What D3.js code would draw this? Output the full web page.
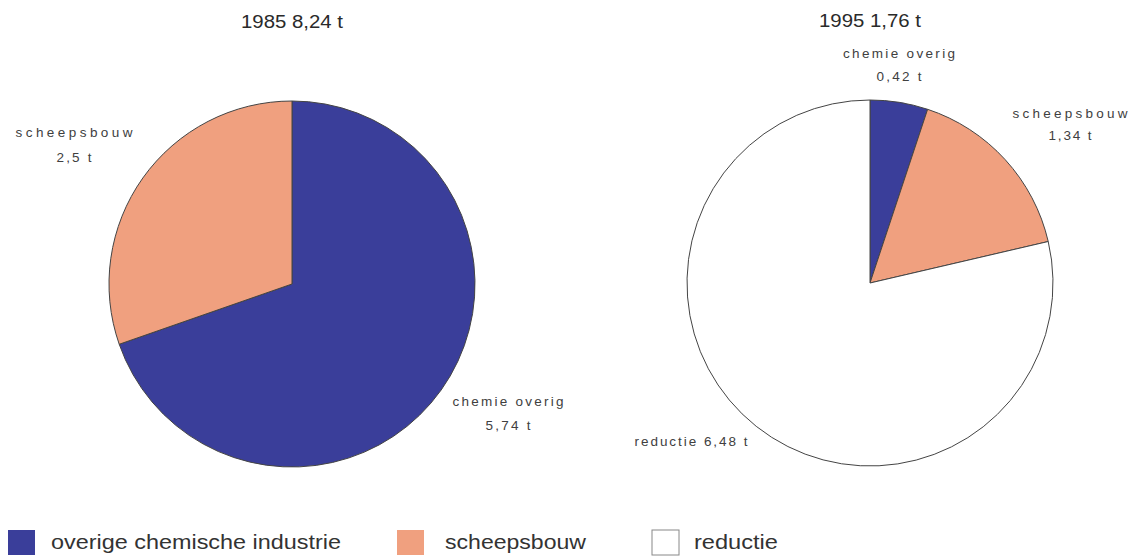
<!DOCTYPE html>
<html>
<head>
<meta charset="utf-8">
<script src="https://cdn.jsdelivr.net/npm/d3@7"></script>
<style>
  html, body { margin: 0; padding: 0; background: #fff; }
  svg { display: block; }
  text { font-family: "Liberation Sans", Arial, Helvetica, sans-serif; }
</style>
</head>
<body>
<svg id="chart" width="1132" height="557"></svg>
<script>
// ---- data ----
const categories = ["overige chemische industrie", "scheepsbouw", "reductie"];
const values1985 = [5.74, 2.5, 0];
const values1995 = [0.42, 1.34, 6.48];
const titles = ["1985 8,24 t", "1995 1,76 t"];
const labels1985 = [["chemie overig", "5,74 t"], ["scheepsbouw", "2,5 t"]];
const labels1995 = [["chemie overig", "0,42 t"], ["scheepsbouw", "1,34 t"], ["reductie 6,48 t"]];

// ---- layout / style ----
const colors = ["#3a3e9a", "#f0a07f", "#ffffff"];
const R = 183;
const pies = [
  { cx: 292, cy: 284, values: values1985, title: titles[0], titleBase: 28, titleW: 102,
    labels: labels1985,
    labelPos: [
      { x: 508, y: 406, dy: 24, w: [111, 45] },
      { x: 74, y: 137, dy: 25, w: [117, 35] }
    ] },
  { cx: 870, cy: 283, values: values1995, title: titles[1], titleBase: 27, titleW: 102,
    labels: labels1995,
    labelPos: [
      { x: 899, y: 58, dy: 23, w: [112, 45] },
      { x: 1070, y: 118, dy: 22, w: [115, 43] },
      { x: 691, y: 446, dy: 0, w: [113] }
    ] }
];

const svg = d3.select("#chart");
const pie = d3.pie().sort(null).value(d => d);
const arc = d3.arc().innerRadius(0).outerRadius(R);

pies.forEach(p => {
  const g = svg.append("g").attr("transform", `translate(${p.cx},${p.cy})`);
  g.selectAll("path")
    .data(pie(p.values).map((d, i) => Object.assign(d, { idx: i })).filter(d => d.value > 0))
    .join("path")
    .attr("d", arc)
    .attr("fill", d => colors[d.idx])
    .attr("stroke", "#444")
    .attr("stroke-width", 1);

  svg.append("text")
    .attr("x", p.cx)
    .attr("y", p.titleBase)
    .attr("text-anchor", "middle")
    .attr("font-size", 18)
    .attr("fill", "#2a2a2a")
    .attr("textLength", p.titleW)
    .attr("lengthAdjust", "spacingAndGlyphs")
    .text(p.title);

  p.labels.forEach((lines, i) => {
    const pos = p.labelPos[i];
    lines.forEach((line, j) => {
      svg.append("text")
        .attr("x", pos.x)
        .attr("y", pos.y + j * pos.dy)
        .attr("text-anchor", "middle")
        .attr("font-size", 13.5)
        .attr("fill", "#404040")
        .attr("textLength", pos.w[j])
        .attr("lengthAdjust", "spacing")
        .text(line);
    });
  });
});

// ---- legend ----
const legendItems = [
  { sx: 8, tx: 51, tw: 290 },
  { sx: 397, tx: 445, tw: 141 },
  { sx: 652, tx: 694, tw: 84 }
];
const leg = svg.append("g");
categories.forEach((c, i) => {
  const it = legendItems[i];
  leg.append("rect")
    .attr("x", it.sx).attr("y", 530)
    .attr("width", 27).attr("height", 25)
    .attr("fill", colors[i])
    .attr("stroke", i === 2 ? "#888" : "none")
    .attr("stroke-width", 1);
  leg.append("text")
    .attr("x", it.tx).attr("y", 549)
    .attr("font-size", 20)
    .attr("fill", "#333")
    .attr("textLength", it.tw)
    .attr("lengthAdjust", "spacingAndGlyphs")
    .text(c);
});
</script>
</body>
</html>
